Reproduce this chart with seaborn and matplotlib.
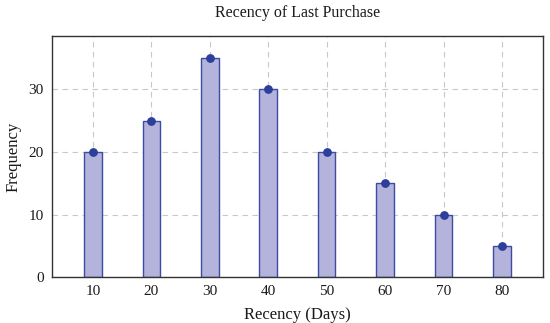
import numpy as np
import pandas as pd
import matplotlib.pyplot as plt
import seaborn as sns

# data
recency_days = [10, 20, 30, 40, 50, 60, 70, 80]
frequency = [20, 25, 35, 30, 20, 15, 10, 5]

bar_fill = '#b3b3dc'
bar_edge = '#3d4ba3'
dot_color = '#2c3f9b'

sns.set_theme(style='white')
plt.rcParams['font.family'] = ['Liberation Serif', 'DejaVu Serif']

df = pd.DataFrame({'recency': recency_days, 'frequency': frequency})

fig, ax = plt.subplots(figsize=(5.5, 3.23), dpi=100)
fig.subplots_adjust(left=0.0945, right=0.987, top=0.888, bottom=0.142)

sns.barplot(data=df, x='recency', y='frequency', native_scale=True, width=0.3,
            color=bar_fill, saturation=1, edgecolor=bar_edge, linewidth=1.0,
            ax=ax, zorder=2)
sns.scatterplot(data=df, x='recency', y='frequency', color=dot_color, s=40,
                edgecolor=dot_color, linewidth=0, ax=ax, zorder=3, clip_on=False)

ax.set_xlim(3, 87)
ax.set_ylim(0, 38.5)
ax.set_xticks(recency_days)
ax.set_yticks([0, 10, 20, 30])
ax.grid(True, color='#c8c8c8', linestyle=(0, (5, 4)), linewidth=0.8, zorder=0)
ax.set_axisbelow(True)

for side in ['left', 'bottom', 'top', 'right']:
    ax.spines[side].set_color('#333333')
    ax.spines[side].set_linewidth(1.0)

ax.tick_params(axis='both', labelsize=11, length=0, pad=6, colors='#1a1a1a')
ax.set_xlabel('Recency (Days)', fontsize=12, labelpad=6, color='#1a1a1a')
ax.set_ylabel('Frequency', fontsize=12, labelpad=5, color='#1a1a1a')
ax.set_title('Recency of Last Purchase', fontsize=11.5, pad=14, color='#1a1a1a')

fig.savefig('out.png', dpi=100)
